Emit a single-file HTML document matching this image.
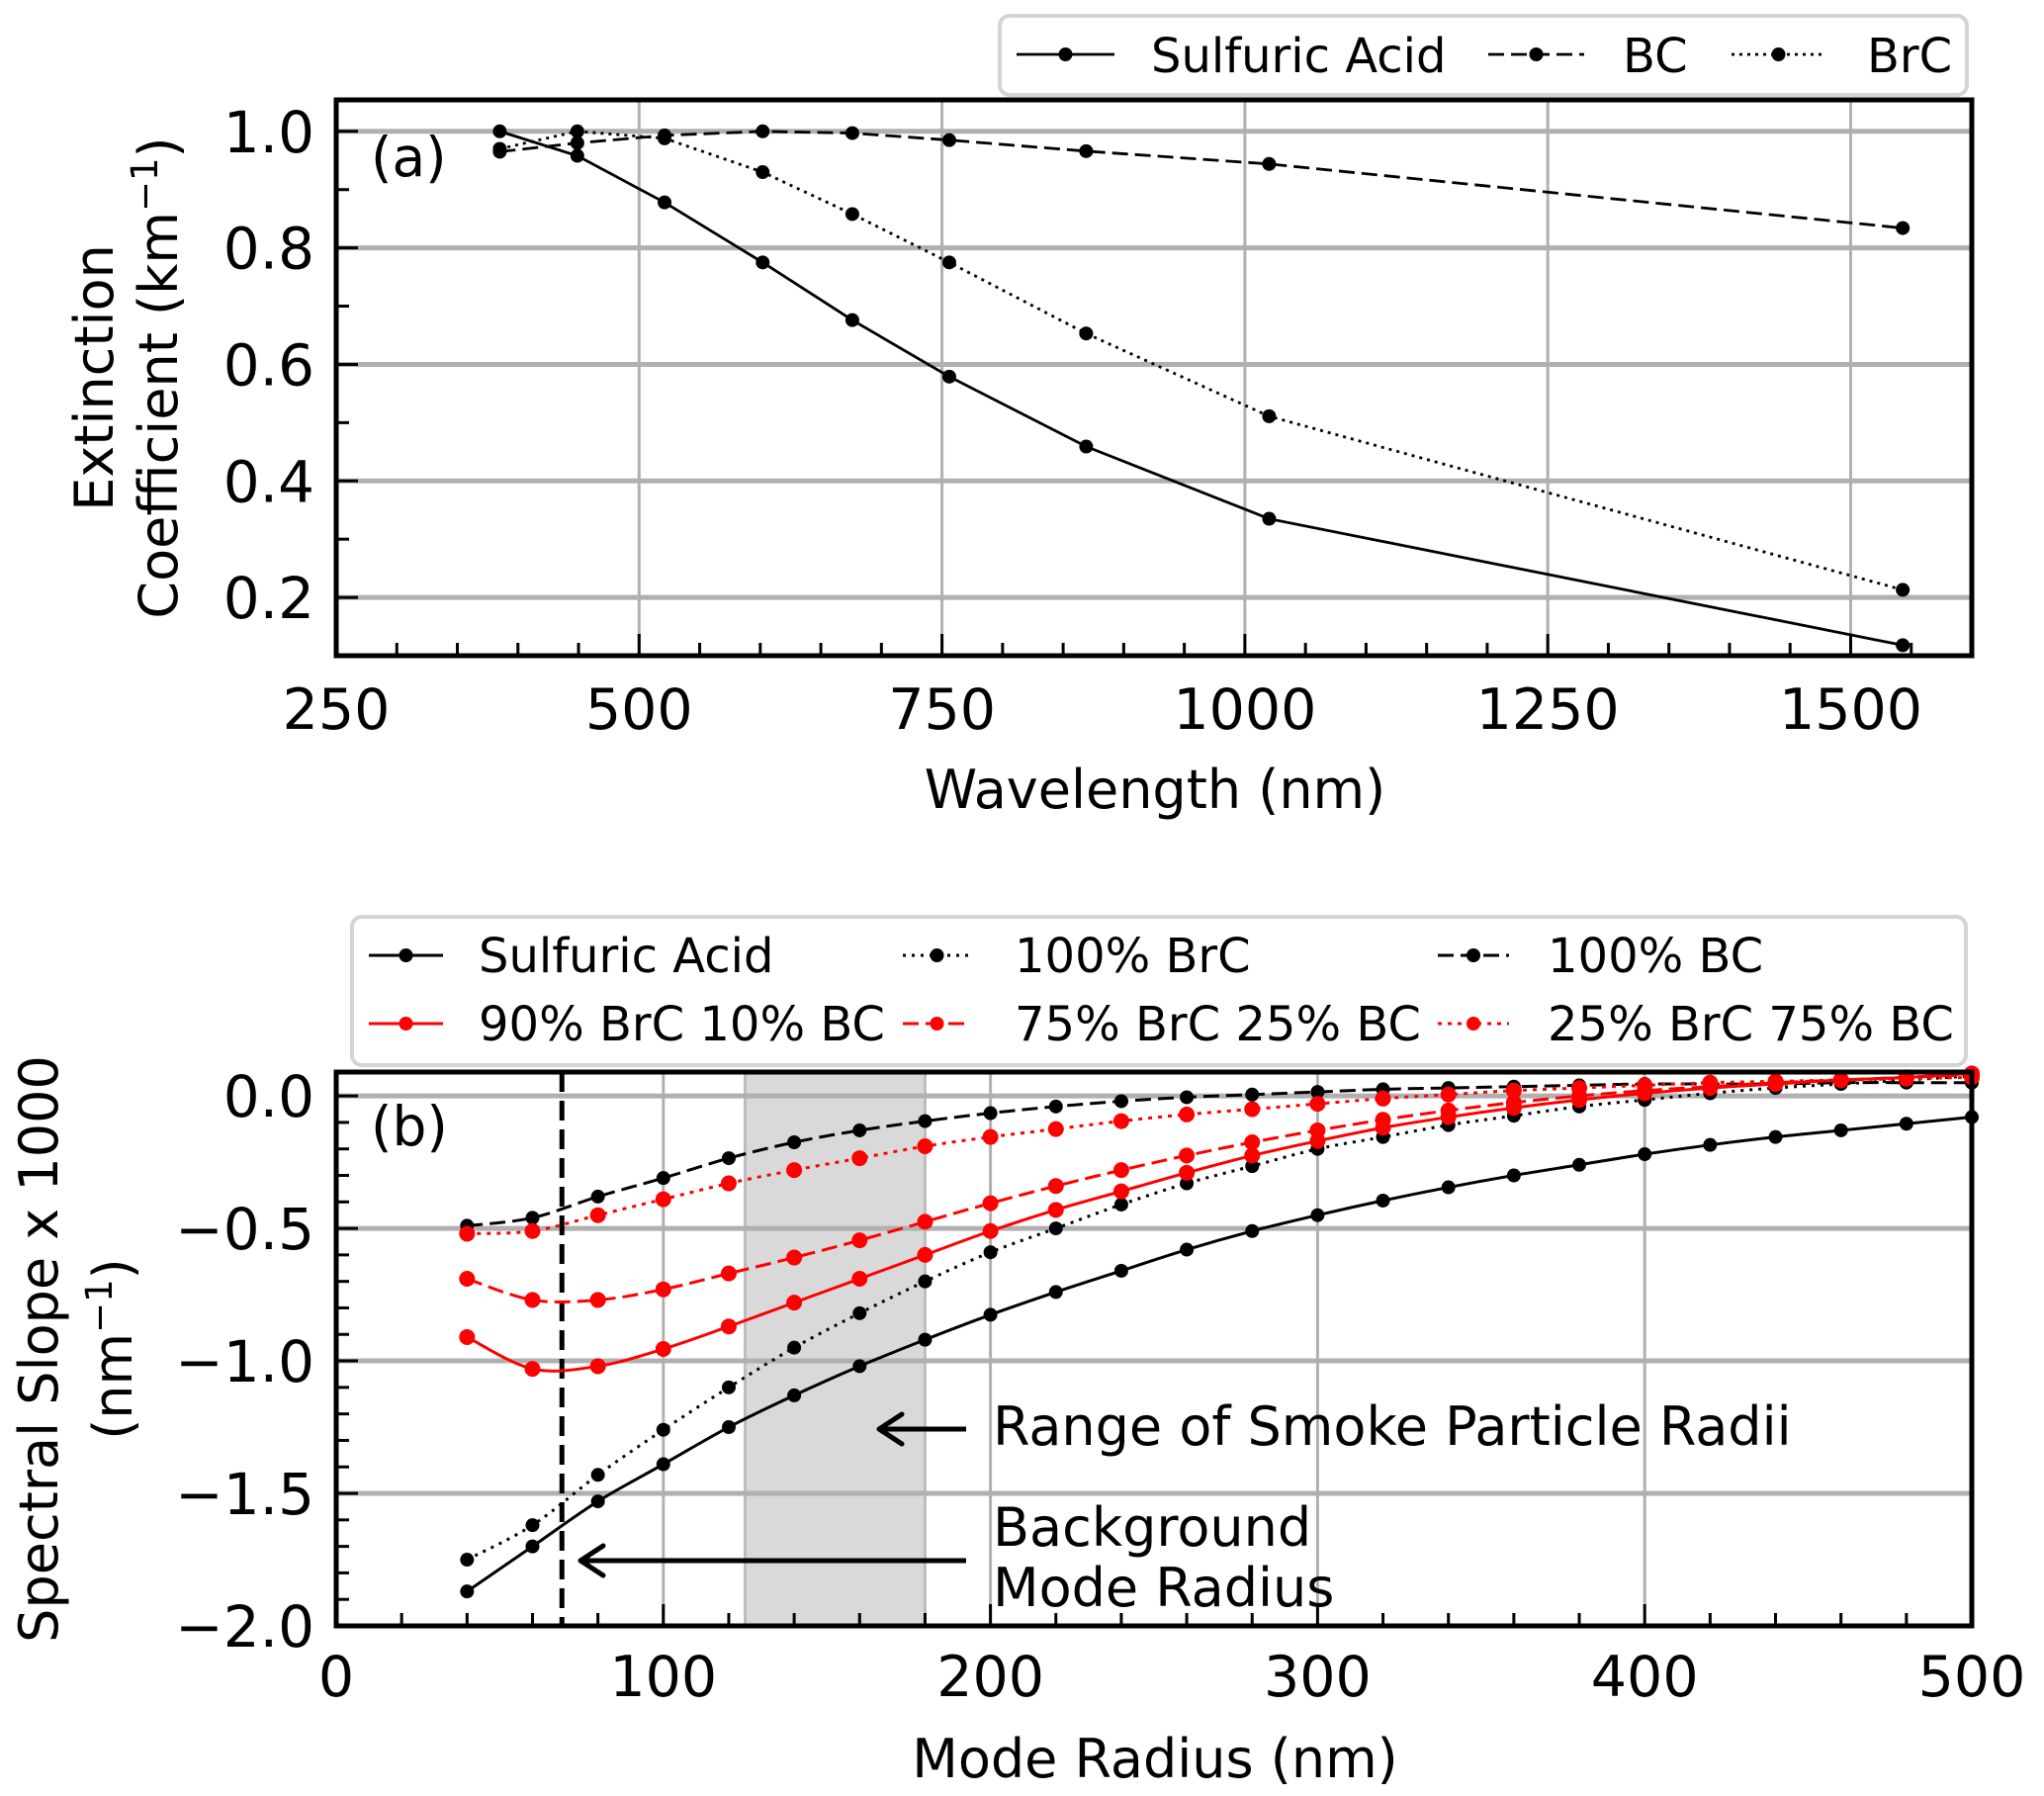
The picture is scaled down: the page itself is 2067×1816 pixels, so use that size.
<!DOCTYPE html>
<html><head><meta charset="utf-8"><style>
html,body{margin:0;padding:0;background:#fff}
svg{display:block}
text{font-family:"DejaVu Sans","Liberation Sans",sans-serif;fill:#000}
</style></head><body>
<svg id="svg" width="2067" height="1816" viewBox="0 0 2067 1816" xmlns="http://www.w3.org/2000/svg">
<g id="pa"></g>
<g id="pb"></g>
</svg>
<script>
// Panel (a) data
const wavelengths = [385, 449, 521, 602, 676, 756, 869, 1020, 1543];
const sulfuricA = [1.0, 0.958, 0.878, 0.775, 0.676, 0.579, 0.459, 0.335, 0.118];
const bcA = [0.965, 0.98, 0.993, 1.0, 0.997, 0.985, 0.966, 0.944, 0.834];
const brcA = [0.97, 1.0, 0.988, 0.93, 0.858, 0.775, 0.653, 0.511, 0.213];
const xTicksA = [250, 500, 750, 1000, 1250, 1500];
const yTicksA = [0.2, 0.4, 0.6, 0.8, 1.0];
const yTickLabelsA = ["0.2", "0.4", "0.6", "0.8", "1.0"];

// Panel (b) data
const radii = [40,60,80,100,120,140,160,180,200,220,240,260,280,300,320,340,360,380,400,420,440,460,480,500];
const sulfuricB = [-1.87,-1.70,-1.53,-1.39,-1.25,-1.13,-1.02,-0.92,-0.826,-0.74,-0.66,-0.58,-0.51,-0.45,-0.395,-0.345,-0.30,-0.26,-0.22,-0.185,-0.155,-0.13,-0.105,-0.08];
const brc100 = [-1.75,-1.62,-1.43,-1.26,-1.10,-0.95,-0.82,-0.70,-0.59,-0.50,-0.41,-0.33,-0.265,-0.20,-0.155,-0.11,-0.075,-0.04,-0.015,0.01,0.03,0.045,0.06,0.075];
const bc100 = [-0.49,-0.46,-0.38,-0.31,-0.235,-0.175,-0.13,-0.095,-0.065,-0.04,-0.02,-0.005,0.005,0.015,0.025,0.03,0.035,0.04,0.045,0.045,0.045,0.05,0.05,0.05];
const mix90 = [-0.91,-1.03,-1.02,-0.955,-0.87,-0.78,-0.69,-0.60,-0.51,-0.43,-0.36,-0.29,-0.225,-0.17,-0.12,-0.08,-0.045,-0.015,0.01,0.03,0.045,0.06,0.07,0.085];
const mix75 = [-0.69,-0.77,-0.77,-0.73,-0.67,-0.61,-0.545,-0.475,-0.405,-0.34,-0.28,-0.225,-0.175,-0.13,-0.09,-0.055,-0.025,0.0,0.02,0.035,0.05,0.06,0.07,0.08];
const mix25 = [-0.52,-0.51,-0.45,-0.39,-0.33,-0.28,-0.235,-0.19,-0.155,-0.125,-0.095,-0.07,-0.05,-0.03,-0.01,0.005,0.02,0.03,0.04,0.05,0.055,0.06,0.065,0.07];
const xTicksB = [0, 100, 200, 300, 400, 500];
const yTicksB = [-2.0, -1.5, -1.0, -0.5, 0.0];
const yTickLabelsB = ["\u22122.0", "\u22121.5", "\u22121.0", "\u22120.5", "0.0"];
const smokeRange = [125, 180];
const backgroundRadius = 69;

const NS = "http://www.w3.org/2000/svg";
function mk(parent, tag, attrs, txt) {
  const e = document.createElementNS(NS, tag);
  for (const k in attrs) e.setAttribute(k, attrs[k]);
  if (txt !== undefined) e.textContent = txt;
  parent.appendChild(e);
  return e;
}

// ---------- Panel A ----------
const A = {L:340, R:1994, T:101, B:663, x0:250, x1:1600, y0:0.1, y1:1.054};
const xa = v => A.L + (v - A.x0) / (A.x1 - A.x0) * (A.R - A.L);
const ya = v => A.B - (v - A.y0) / (A.y1 - A.y0) * (A.B - A.T);
const pa = document.getElementById('pa');

xTicksA.forEach(t => {
  if (t > A.x0) { const g = mk(pa,'line',{x1:xa(t),x2:xa(t),y1:A.T,y2:A.B,stroke:'#b0b0b0','stroke-width':3});
    }
});
yTicksA.forEach(t => {
  const g = mk(pa,'line',{x1:A.L,x2:A.R,y1:ya(t),y2:ya(t),stroke:'#b0b0b0','stroke-width':5});
   
});
for (let v = 300; v < 1600; v += 50) {
  const major = v % 250 === 0;
  mk(pa,'line',{x1:xa(v),x2:xa(v),y1:A.B,y2:A.B-(major?22:13),stroke:'#000','stroke-width':3});
}
for (let k = 2; k <= 10; k++) {
  const v = k/10; const major = k % 2 === 0;
  mk(pa,'line',{x1:A.L,x2:A.L+(major?22:13),y1:ya(v),y2:ya(v),stroke:'#000','stroke-width':3});
}
xTicksA.forEach(t => {
  const e = mk(pa,'text',{x:xa(t),y:737,'font-size':57,'text-anchor':'middle'}, String(t));
   
});
yTicksA.forEach((t,i) => {
  const e = mk(pa,'text',{x:318,y:ya(t)+21,'font-size':58,'text-anchor':'end'}, yTickLabelsA[i]);
   
});

function seriesA(vals, dash, name) {
  const g = mk(pa,'g',{});
   
  const pts = wavelengths.map((w,i)=>xa(w)+','+ya(vals[i])).join(' ');
  mk(g,'polyline',{points:pts,fill:'none',stroke:'#000','stroke-width':2.8,'stroke-dasharray':dash});
  wavelengths.forEach((w,i)=>{
    const c = mk(g,'circle',{cx:xa(w),cy:ya(vals[i]),r:7,fill:'#000'});
     
  });
}
seriesA(bcA,'16,7','bc-series-a');
seriesA(brcA,'3,5','brc-series-a');
seriesA(sulfuricA,'none','sulfuric-acid-series-a');

mk(pa,'rect',{x:A.L,y:A.T,width:A.R-A.L,height:A.B-A.T,fill:'none',stroke:'#000','stroke-width':5});
let t1 = mk(pa,'text',{x:375,y:178,'font-size':55},'(a)');
 
let xl = mk(pa,'text',{x:1168,y:817,'font-size':54,'text-anchor':'middle'},'Wavelength (nm)');
 
let yl = mk(pa,'text',{transform:'translate(114,382) rotate(-90)','font-size':54,'text-anchor':'middle'},'Extinction');
 
let yl2 = mk(pa,'text',{transform:'translate(179,382) rotate(-90)','font-size':54,'text-anchor':'middle'});
 
yl2.innerHTML = 'Coefficient (km<tspan font-size="37" dy="-20">\u22121</tspan><tspan dy="20">)</tspan>';

// legend A
const lgA = mk(pa,'g',{});
 
mk(lgA,'rect',{x:1011,y:16,width:978,height:80,rx:10,fill:'#fff',stroke:'#d4d4d4','stroke-width':4});
[[1028,1127,'none','Sulfuric Acid',1164],[1505,1602,'16,7','BC',1641],[1751,1846,'3,5','BrC',1888]].forEach(([a,b,d,lab,tx])=>{
  const g = mk(lgA,'g',{});
   
  mk(g,'line',{x1:a,x2:b,y1:55,y2:55,stroke:'#000','stroke-width':2.8,'stroke-dasharray':d});
  mk(g,'circle',{cx:(a+b)/2,cy:55,r:7,fill:'#000'});
  mk(g,'text',{x:tx,y:73,'font-size':48},lab);
});

// ---------- Panel B ----------
const B = {L:340, R:1994, T:1084, B:1644, x0:0, x1:500, y0:-2.0, y1:0.09};
const xb = v => B.L + (v - B.x0) / (B.x1 - B.x0) * (B.R - B.L);
const yb = v => B.B - (v - B.y0) / (B.y1 - B.y0) * (B.B - B.T);
const pb = document.getElementById('pb');

const shade = mk(pb,'rect',{x:xb(smokeRange[0]),y:B.T,width:xb(smokeRange[1])-xb(smokeRange[0]),height:B.B-B.T,fill:'#d9d9d9',stroke:'#bdbdbd','stroke-width':3});
 
xTicksB.forEach(t => {
  if (t > B.x0 && t < B.x1) { const g = mk(pb,'line',{x1:xb(t),x2:xb(t),y1:B.T,y2:B.B,stroke:'#b0b0b0','stroke-width':3});
    }
});
yTicksB.forEach(t => {
  if (t > B.y0) { const g = mk(pb,'line',{x1:B.L,x2:B.R,y1:yb(t),y2:yb(t),stroke:'#b0b0b0','stroke-width':5});
    }
});
for (let v = 20; v < 500; v += 20) {
  const major = v % 100 === 0;
  mk(pb,'line',{x1:xb(v),x2:xb(v),y1:B.B,y2:B.B-(major?22:13),stroke:'#000','stroke-width':3});
}
for (let k = -19; k <= 0; k++) {
  const v = k/10; const major = k % 5 === 0;
  mk(pb,'line',{x1:B.L,x2:B.L+(major?22:13),y1:yb(v),y2:yb(v),stroke:'#000','stroke-width':3});
}
xTicksB.forEach(t => {
  const e = mk(pb,'text',{x:xb(t),y:1715,'font-size':57,'text-anchor':'middle'}, String(t));
   
});
yTicksB.forEach((t,i) => {
  const e = mk(pb,'text',{x:318,y:yb(t)+21,'font-size':58,'text-anchor':'end'}, yTickLabelsB[i]);
   
});

const vline = mk(pb,'line',{x1:xb(backgroundRadius),x2:xb(backgroundRadius),y1:B.T,y2:B.B,stroke:'#000','stroke-width':5,'stroke-dasharray':'20,9'});
 

function smoothPath(xs, ys) {
  const P = xs.map((x,i)=>[xb(x), yb(ys[i])]);
  let d = 'M'+P[0][0]+','+P[0][1];
  for (let i=0;i<P.length-1;i++){
    const p0=P[Math.max(0,i-1)], p1=P[i], p2=P[i+1], p3=P[Math.min(P.length-1,i+2)];
    const c1=[p1[0]+(p2[0]-p0[0])/6, p1[1]+(p2[1]-p0[1])/6];
    const c2=[p2[0]-(p3[0]-p1[0])/6, p2[1]-(p3[1]-p1[1])/6];
    d+=' C'+c1[0]+','+c1[1]+' '+c2[0]+','+c2[1]+' '+p2[0]+','+p2[1];
  }
  return d;
}
function seriesB(vals, color, dash, name) {
  const g = mk(pb,'g',{});
   
  mk(g,'path',{d:smoothPath(radii, vals),fill:'none',stroke:color,'stroke-width':3,'stroke-dasharray':dash});
  radii.forEach((r,i)=>{
    const c = mk(g,'circle',{cx:xb(r),cy:yb(vals[i]),r:color==='#000'?7:8,fill:color});
     
  });
}
seriesB(bc100,'#000','16,7','bc100-series');
seriesB(brc100,'#000','3,6','brc100-series');
seriesB(sulfuricB,'#000','none','sulfuric-acid-series-b');
seriesB(mix25,'#ff0000','4,6','mix25-series');
seriesB(mix75,'#ff0000','16,7','mix75-series');
seriesB(mix90,'#ff0000','none','mix90-series');

mk(pb,'rect',{x:B.L,y:B.T,width:B.R-B.L,height:B.B-B.T,fill:'none',stroke:'#000','stroke-width':5});

// annotations
const an1 = mk(pb,'g',{});
 
mk(an1,'line',{x1:977,x2:890,y1:1445,y2:1445,stroke:'#000','stroke-width':5});
mk(an1,'polyline',{points:'912,1430 889,1445 912,1460',fill:'none',stroke:'#000','stroke-width':5,'stroke-linecap':'round','stroke-linejoin':'round'});
mk(an1,'text',{x:1004,y:1461,'font-size':54},'Range of Smoke Particle Radii');
const an2 = mk(pb,'g',{});
 
mk(an2,'line',{x1:977,x2:588,y1:1578,y2:1578,stroke:'#000','stroke-width':5});
mk(an2,'polyline',{points:'610,1563 587,1578 610,1593',fill:'none',stroke:'#000','stroke-width':5,'stroke-linecap':'round','stroke-linejoin':'round'});
mk(an2,'text',{x:1004,y:1563,'font-size':54},'Background');
mk(an2,'text',{x:1004,y:1624,'font-size':54},'Mode Radius');

let t2 = mk(pb,'text',{x:375,y:1158,'font-size':55},'(b)');
 
let xlb = mk(pb,'text',{x:1168,y:1797,'font-size':54,'text-anchor':'middle'},'Mode Radius (nm)');
 
let ylb = mk(pb,'text',{transform:'translate(58,1364) rotate(-90)','font-size':54,'text-anchor':'middle'},'Spectral Slope x 1000');
 
let ylb2 = mk(pb,'text',{transform:'translate(133,1364) rotate(-90)','font-size':54,'text-anchor':'middle'});
 
ylb2.innerHTML = '(nm<tspan font-size="37" dy="-20">\u22121</tspan><tspan dy="20">)</tspan>';

// legend B
const lgB = mk(pb,'g',{});
 
mk(lgB,'rect',{x:356,y:927,width:1632,height:150,rx:10,fill:'#fff',stroke:'#d4d4d4','stroke-width':4});
[
 [373,448,'#000','none','Sulfuric Acid',484,966],
 [913,982,'#000','3,6','100% BrC',1026,966],
 [1454,1526,'#000','16,7','100% BC',1565,966],
 [373,448,'#ff0000','none','90% BrC 10% BC',484,1035],
 [913,982,'#ff0000','16,7','75% BrC 25% BC',1026,1035],
 [1454,1526,'#ff0000','4,6','25% BrC 75% BC',1565,1035]
].forEach(([a,b,c,d,lab,tx,y])=>{
  const g = mk(lgB,'g',{});
   
  mk(g,'line',{x1:a,x2:b,y1:y,y2:y,stroke:c,'stroke-width':3,'stroke-dasharray':d});
  mk(g,'circle',{cx:(a+b)/2,cy:y,r:7,fill:c});
  mk(g,'text',{x:tx,y:y+17,'font-size':48},lab);
});
</script>
</body></html>
